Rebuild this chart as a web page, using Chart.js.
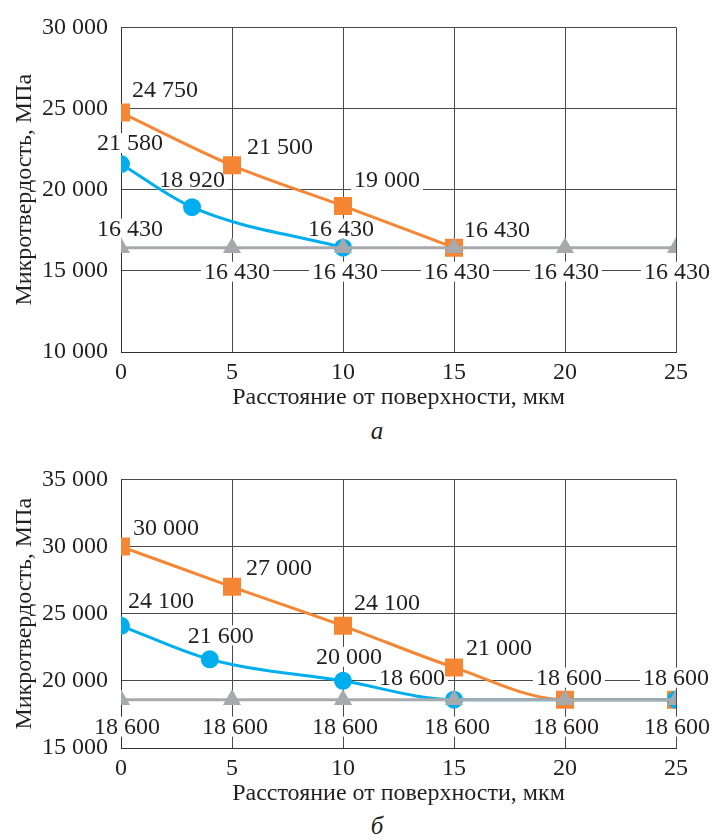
<!DOCTYPE html>
<html>
<head>
<meta charset="utf-8">
<script src="https://cdn.jsdelivr.net/npm/chart.js@4.4.1/dist/chart.umd.min.js"></script>
<style>
  body { margin: 0; background: #fff; }
  .wrap { position: relative; width: 712px; height: 840px; overflow: hidden; font-family: "Liberation Serif", serif; }
  canvas { position: absolute; left: 0; }
  .cap { position: absolute; left: 377px; transform: translateX(-50%); font-style: italic; font-size: 25px; line-height: 28px; color: #231f20; }
</style>
</head>
<body>
<div class="wrap">
  <canvas id="chartA" width="712" height="412" style="top:0"></canvas>
  <div class="cap" style="top:417px">а</div>
  <canvas id="chartB" width="712" height="356" style="top:452px"></canvas>
  <div class="cap" style="top:812px">б</div>
</div>
<script>
"use strict";

// ---- данные ----
const xTicks = [0, 5, 10, 15, 20, 25];

// а
const aOrangeX = [0, 5, 10, 15];
const aOrangeY = [24750, 21500, 19000, 16430];
const aBlueX = [0, 3.2, 10];
const aBlueY = [21580, 18920, 16430];
const aGrayY = [16430, 16430, 16430, 16430, 16430, 16430];

// б
const bOrangeX = [0, 5, 10, 15, 20, 25];
const bOrangeY = [30000, 27000, 24100, 21000, 18600, 18600];
const bBlueX = [0, 4, 10, 15, 25];
const bBlueY = [24100, 21600, 20000, 18600, 18600];
const bGrayY = [18600, 18600, 18600, 18600, 18600, 18600];

// смещения подписей (dx, dy от точки), null - без подписи
const aOrangeLbl = [[44, -23], [48, -19], [44, -26], [43, -18]];
const aBlueLbl = [[9, -21], [0, -28], [-2, -19]];
const aGrayLbl = [[9, -19], [5, 24], [2, 24], [3, 24], [1, 24], [1, 24]];
const bOrangeLbl = [[45, -19], [47, -19], [44, -23], [45, -20], [4, -22], [0, -22]];
const bBlueLbl = [[40, -25], [11, -24], [6, -24], [-42, -22], null];
const bGrayLbl = [[6, 27], [3, 27], [2, 27], [3, 27], [1, 27], [1, 27]];

const FONT = '"Liberation Serif", "Times New Roman", serif';
const FS = 24;
const TEXT = '#231f20';
const ORANGE = '#f58634';
const BLUE = '#00aeef';
const GRAY = '#a7a9ac';

function fmt(v) {
  return String(v).replace(/\B(?=(\d{3})+(?!\d))/g, ' ');
}

function pts(xs, ys) {
  return xs.map((x, i) => ({ x: x, y: ys[i] }));
}

// подписи значений на белой подложке (подложка закрывает сетку, но не линии)
const pointLabels = {
  id: 'pointLabels',
  beforeDatasetsDraw(chart) {
    this.each(chart, (ctx, txt, x, y, w) => {
      ctx.fillStyle = '#fff';
      ctx.fillRect(x - w / 2 - 3, y - 10, w + 6, 20);
    });
  },
  afterDatasetsDraw(chart) {
    this.each(chart, (ctx, txt, x, y) => {
      ctx.fillStyle = TEXT;
      ctx.fillText(txt, x, y + 1);
    });
  },
  each(chart, fn) {
    const ctx = chart.ctx;
    ctx.save();
    ctx.font = FS + 'px ' + FONT;
    ctx.textAlign = 'center';
    ctx.textBaseline = 'middle';
    chart.data.datasets.forEach((ds, i) => {
      const meta = chart.getDatasetMeta(i);
      (ds.labelAt || []).forEach((off, j) => {
        if (!off) return;
        const p = meta.data[j];
        const txt = fmt(ds.data[j].y);
        const w = ctx.measureText(txt).width;
        fn(ctx, txt, p.x + off[0], p.y + off[1], w);
      });
    });
    ctx.restore();
  }
};

function makeChart(id, gray, blue, orange, lbls, yMin, yMax) {
  new Chart(document.getElementById(id), {
    type: 'line',
    data: {
      datasets: [
        {
          data: gray, labelAt: lbls[0],
          borderColor: GRAY, backgroundColor: GRAY, borderWidth: 3,
          pointStyle: 'triangle', pointRadius: 7.5, tension: 0
        },
        {
          data: blue, labelAt: lbls[1],
          borderColor: BLUE, backgroundColor: BLUE, borderWidth: 3,
          pointStyle: 'circle', pointRadius: 7.5, cubicInterpolationMode: 'monotone'
        },
        {
          data: orange, labelAt: lbls[2],
          borderColor: ORANGE, backgroundColor: ORANGE, borderWidth: 3,
          pointStyle: 'rect', pointRadius: 10.6, cubicInterpolationMode: 'monotone'
        }
      ]
    },
    options: {
      responsive: false,
      animation: false,
      layout: { padding: { top: 22, right: 36, left: 0, bottom: 0 } },
      plugins: {
        legend: { display: false },
        tooltip: { enabled: false }
      },
      scales: {
        x: {
          type: 'linear', min: 0, max: 25,
          afterBuildTicks: s => { s.ticks = xTicks.map(v => ({ value: v })); },
          grid: { color: '#4a4a4a', drawTicks: false },
          border: { color: '#333' },
          ticks: { color: TEXT, font: { family: FONT, size: FS }, padding: 6, maxRotation: 0 },
          title: {
            display: true, text: 'Расстояние от поверхности, мкм', color: TEXT,
            font: { family: FONT, size: FS }, padding: { top: 0, bottom: 0 }
          },
          afterFit: s => { s.height = 60; }
        },
        y: {
          min: yMin, max: yMax,
          grid: { color: '#4a4a4a', drawTicks: false },
          border: { color: '#333' },
          ticks: {
            stepSize: 5000, color: TEXT, font: { family: FONT, size: FS }, padding: 13,
            callback: v => fmt(v)
          },
          title: {
            display: true, text: 'Микротвердость, МПа', color: TEXT,
            font: { family: FONT, size: FS }, padding: { top: 10, bottom: 0 }
          },
          afterFit: s => { s.width = 121; }
        }
      }
    },
    plugins: [pointLabels]
  });
}

function drawAll() {
  makeChart('chartA',
    pts(xTicks, aGrayY), pts(aBlueX, aBlueY), pts(aOrangeX, aOrangeY),
    [aGrayLbl, aBlueLbl, aOrangeLbl], 10000, 30000);

  makeChart('chartB',
    pts(xTicks, bGrayY), pts(bBlueX, bBlueY), pts(bOrangeX, bOrangeY),
    [bGrayLbl, bBlueLbl, bOrangeLbl], 15000, 35000);
}

// шрифт с засечками должен быть загружен до отрисовки на canvas
document.fonts.load(FS + 'px "Liberation Serif"', '0123 Мкм').then(drawAll, drawAll);
</script>
</body>
</html>
